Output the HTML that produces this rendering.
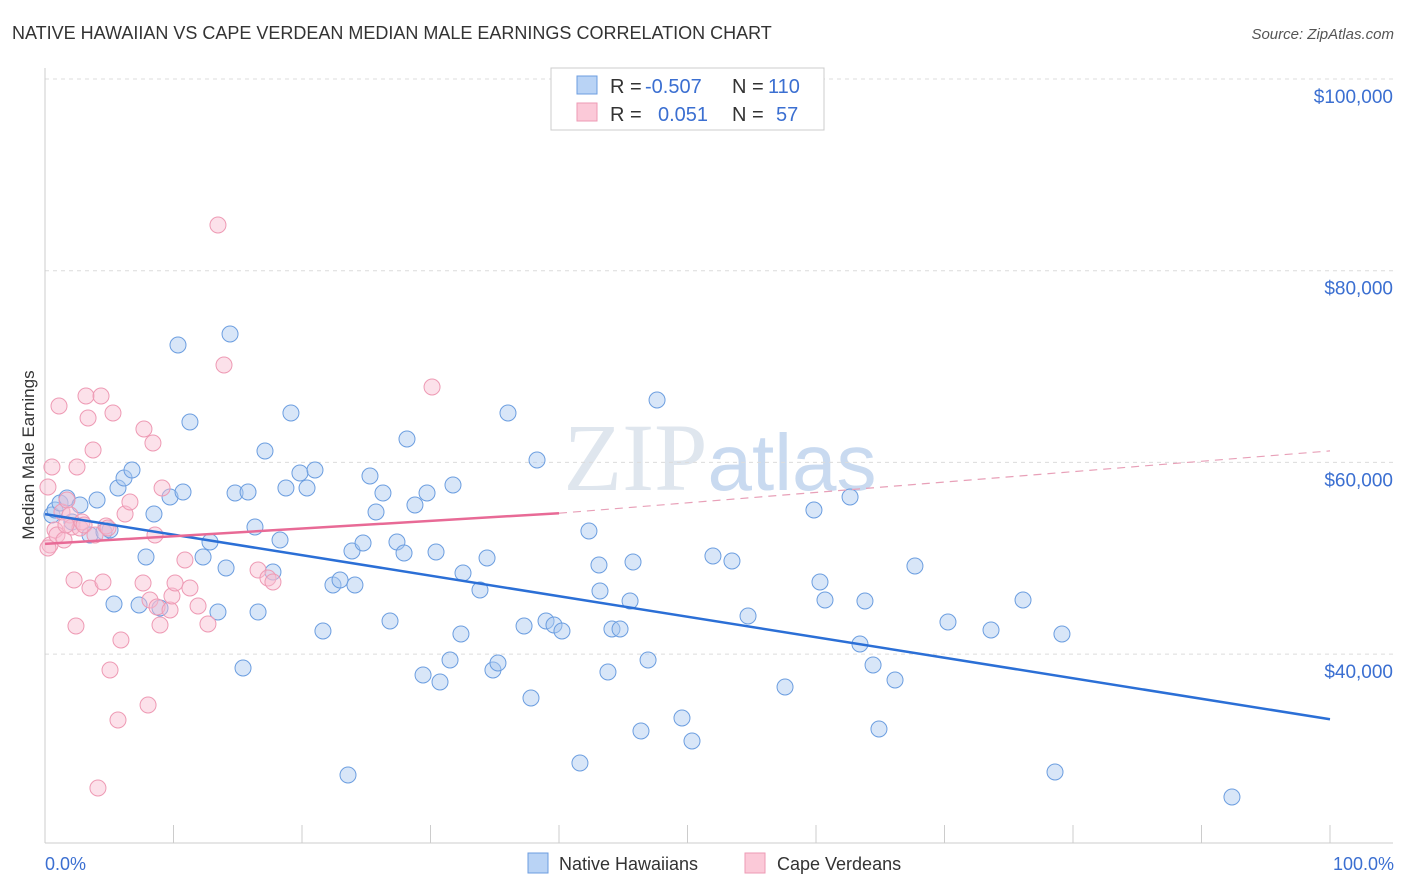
<!DOCTYPE html>
<html><head><meta charset="utf-8"><style>
body{margin:0;background:#fff;font-family:"Liberation Sans",sans-serif}
svg{display:block}
</style></head><body>
<svg id="chart" width="1406" height="892" xmlns="http://www.w3.org/2000/svg" font-family="Liberation Sans, sans-serif">
<text x="12" y="39" font-size="18" fill="#333">NATIVE HAWAIIAN VS CAPE VERDEAN MEDIAN MALE EARNINGS CORRELATION CHART</text>
<text x="1394" y="39" font-size="15" fill="#555" font-style="italic" text-anchor="end">Source: ZipAtlas.com</text>
<text x="720" y="490" font-size="96" fill="#dfe6ee" text-anchor="middle" font-family="Liberation Serif, serif">ZIP<tspan fill="#c9daf0" font-family="Liberation Sans, sans-serif" font-size="80">atlas</tspan></text>
<g id="grid"></g><g id="axes"></g><g id="pts"></g><g id="trend"></g>
<text transform="translate(34,455) rotate(-90)" font-size="17" fill="#333" text-anchor="middle">Median Male Earnings</text>
<text x="45" y="870" font-size="18" fill="#3b6fd1">0.0%</text>
<text x="1394" y="870" font-size="18" fill="#3b6fd1" text-anchor="end">100.0%</text>
<g font-size="20">
<rect x="551" y="68" width="273" height="62" fill="#fff" stroke="#ccc"/>
<rect x="577" y="76" width="20" height="18" fill="#b9d3f5" stroke="#6c9ee0"/>
<rect x="577" y="103" width="20" height="18" fill="#fbc9d8" stroke="#ee9ab4"/>
<text x="610" y="93" fill="#333">R =</text>
<text x="645" y="93" fill="#3b6fd1">-0.507</text>
<text x="732" y="93" fill="#333">N =</text>
<text x="768" y="93" fill="#3b6fd1">110</text>
<text x="610" y="121" fill="#333">R =</text>
<text x="658" y="121" fill="#3b6fd1">0.051</text>
<text x="732" y="121" fill="#333">N =</text>
<text x="776" y="121" fill="#3b6fd1">57</text>
</g>
<g>
<rect x="528" y="853" width="20" height="20" fill="#b9d3f5" stroke="#6c9ee0"/>
<text x="559" y="870" font-size="18" fill="#333">Native Hawaiians</text>
<rect x="745" y="853" width="20" height="20" fill="#fbc9d8" stroke="#ee9ab4"/>
<text x="777" y="870" font-size="18" fill="#333">Cape Verdeans</text>
</g>
</svg>
<script>
const yTicks=[40000,60000,80000,100000];
const yTickLabels=["$40,000","$60,000","$80,000","$100,000"];
const xTicks=[0,10,20,30,40,50,60,70,80,90,100];
const bluePx=[[52,515],[55,510],[60,503],[67,498],[72,522],[80,505],[90,535],[97,500],[104,532],[110,530],[114,604],[118,488],[124,478],[132,470],[139,605],[146,557],[154,514],[160,608],[170,497],[178,345],[183,492],[190,422],[203,557],[210,542],[218,612],[226,568],[230,334],[235,493],[243,668],[248,492],[255,527],[258,612],[265,451],[273,572],[280,540],[286,488],[291,413],[300,473],[307,488],[315,470],[323,631],[333,585],[340,580],[348,775],[352,551],[355,585],[363,543],[370,476],[376,512],[383,493],[390,621],[397,542],[404,553],[407,439],[415,505],[423,675],[427,493],[436,552],[440,682],[450,660],[453,485],[461,634],[463,573],[480,590],[487,558],[493,670],[498,663],[508,413],[524,626],[531,698],[537,460],[546,621],[554,625],[562,631],[580,763],[589,531],[599,565],[600,591],[608,672],[612,629],[620,629],[630,601],[633,562],[641,731],[648,660],[657,400],[682,718],[692,741],[713,556],[732,561],[748,616],[785,687],[814,510],[820,582],[825,600],[850,497],[860,644],[865,601],[873,665],[879,729],[895,680],[915,566],[948,622],[991,630],[1023,600],[1055,772],[1062,634],[1232,797]];
const pinkPx=[[48,487],[50,545],[52,467],[55,530],[57,535],[59,406],[62,512],[64,540],[67,500],[70,515],[72,527],[74,580],[76,626],[77,467],[80,528],[82,522],[84,525],[86,396],[88,418],[90,588],[93,450],[95,535],[98,788],[101,396],[103,582],[106,526],[108,528],[110,670],[113,413],[118,720],[121,640],[125,514],[130,502],[143,583],[144,429],[148,705],[150,600],[153,443],[155,535],[157,607],[160,625],[162,488],[170,610],[172,596],[175,583],[185,560],[190,588],[198,606],[208,624],[218,225],[224,365],[258,570],[268,578],[273,582],[432,387],[48,548],[66,525]];
const blueX=bluePx.map(p=>+((p[0]-45)/12.85).toFixed(2));
const blueY=bluePx.map(p=>Math.round(100000-(p[1]-79)*104.33));
const pinkX=pinkPx.map(p=>+((p[0]-45)/12.85).toFixed(2));
const pinkY=pinkPx.map(p=>Math.round(100000-(p[1]-79)*104.33));
const blueTrend=[[0,54600],[100,33200]];
const pinkTrend=[[0,51500],[40,54700],[100,61200]];
const X=v=>45+v*12.85, Y=v=>79+(100000-v)/104.33;
const NS="http://www.w3.org/2000/svg";
function mk(t,a,p){const e=document.createElementNS(NS,t);for(const k in a)e.setAttribute(k,a[k]);p.appendChild(e);return e;}
const g=document.getElementById('grid'),ax=document.getElementById('axes'),pts=document.getElementById('pts'),tr=document.getElementById('trend');
yTicks.forEach((v,i)=>{const l=mk('line',{x1:45,x2:1393,y1:Y(v),y2:Y(v),stroke:'#dcdcdc','stroke-dasharray':'4,4'},g);


const t=mk('text',{x:1393,y:Y(v)+24,'font-size':19,fill:'#3b6fd1','text-anchor':'end'},ax);t.textContent=yTickLabels[i];

});
mk('line',{x1:45,x2:45,y1:68,y2:843,stroke:'#ccc'},ax);
mk('line',{x1:45,x2:1393,y1:843,y2:843,stroke:'#ccc'},ax);
xTicks.forEach(v=>{const l=mk('line',{x1:X(v),x2:X(v),y1:825,y2:843,stroke:'#ccc'},ax);

});
function dots(xs,ys,fill,stroke,name){xs.forEach((x,i)=>{const c=mk('circle',{cx:X(x),cy:Y(ys[i]),r:8,fill:fill,'fill-opacity':0.45,stroke:stroke,'stroke-width':1},pts);

});}
dots(blueX,blueY,'#a9c8f0','#6c9ee0','native-hawaiian-point');
dots(pinkX,pinkY,'#f8bcd0','#ee9ab4','cape-verdean-point');
const bl=mk('line',{x1:X(blueTrend[0][0]),y1:Y(blueTrend[0][1]),x2:X(blueTrend[1][0]),y2:Y(blueTrend[1][1]),stroke:'#2b6fd6','stroke-width':2.5},tr);


const pl=mk('line',{x1:X(pinkTrend[0][0]),y1:Y(pinkTrend[0][1]),x2:X(pinkTrend[1][0]),y2:Y(pinkTrend[1][1]),stroke:'#e86a96','stroke-width':2.5},tr);


const pd=mk('line',{x1:X(pinkTrend[1][0]),y1:Y(pinkTrend[1][1]),x2:X(pinkTrend[2][0]),y2:Y(pinkTrend[2][1]),stroke:'#e8a0b8','stroke-width':1.2,'stroke-dasharray':'8,6'},tr);


</script>
</body></html>
